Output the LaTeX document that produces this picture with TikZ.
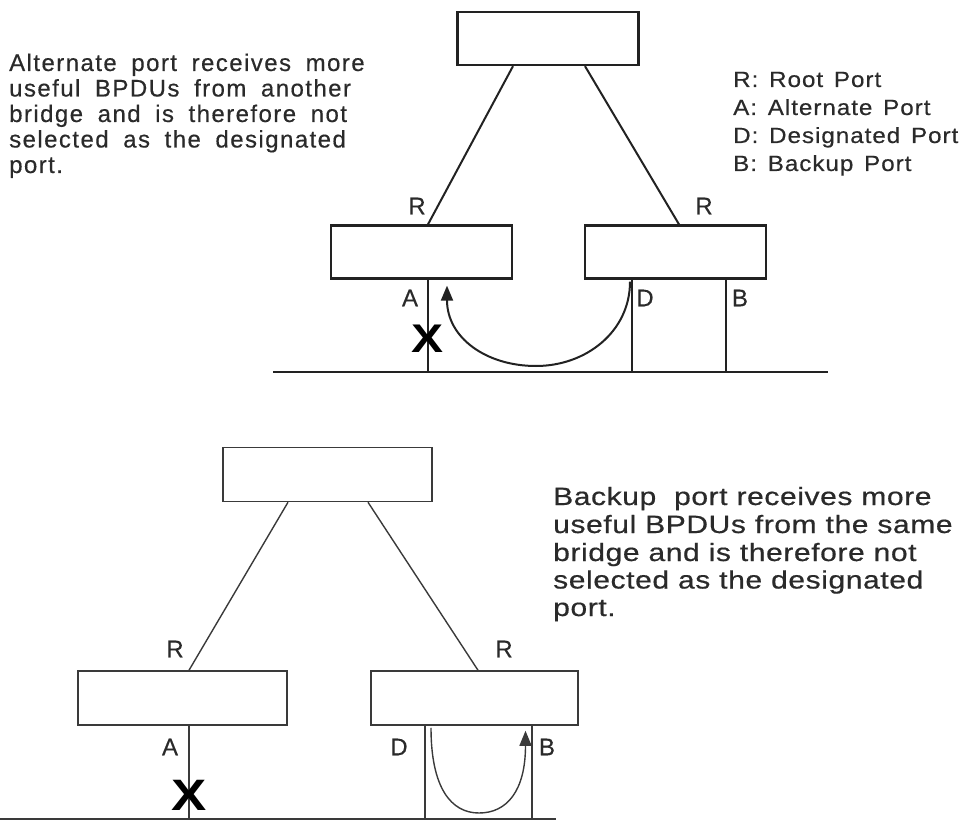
\documentclass[tikz,border=0pt]{standalone}
\usepackage{fontspec}
\setmainfont{Liberation Sans}
\newfontfamily\tlfont[LetterSpace=6,WordSpace=1.8,FakeBold=0.4]{Liberation Sans}
\newfontfamily\lgfont[LetterSpace=4,WordSpace=1.4,FakeBold=0.4]{Liberation Sans}
\newfontfamily\brfont[LetterSpace=2,FakeBold=0.5]{Liberation Sans}
\newfontfamily\lbfont[FakeBold=0.3]{Liberation Sans}
\usetikzlibrary{arrows.meta}
\definecolor{ink}{HTML}{222222}
\definecolor{inkb}{HTML}{3A3A3A}
\definecolor{txt}{HTML}{2A2A2A}
\newcommand{\lgx}[1]{\scalebox{1.1}[1]{#1}}
\newcommand{\brx}[1]{\scalebox{1.2}[1]{#1}}
\newcommand{\xx}[1]{\scalebox{1.2}[1]{#1}}
\begin{document}
\begin{tikzpicture}[x=1pt,y=-1pt,
  boxA/.style={draw=ink,line width=2.3pt,minimum width=181pt,minimum height=53pt,inner sep=0pt},
  boxB/.style={draw=inkb,line width=1.5pt,minimum width=209pt,minimum height=54pt,inner sep=0pt},
  wireA/.style={draw=ink,line width=2pt},
  wireB/.style={draw=inkb,line width=1.4pt},
  lbl/.style={inner sep=0pt,text=txt,font=\lbfont\fontsize{24}{26}\selectfont},
  tlline/.style={anchor=base west,inner sep=0pt,text=txt,font=\tlfont\fontsize{24}{25}\selectfont},
  lgline/.style={anchor=base west,inner sep=0pt,text=txt,font=\lgfont\fontsize{22}{23}\selectfont},
  brline/.style={anchor=base west,inner sep=0pt,text=txt,font=\brfont\fontsize{25}{26}\selectfont},
  xmark/.style={inner sep=0pt,text=black,font=\bfseries\fontsize{#1}{#1}\selectfont},
  tipA/.style={-{Triangle[length=15pt,width=12pt]}},
]
\useasboundingbox (0,0) rectangle (966,821);

% ---------- top diagram ----------
\node[boxA] (tt) at (548,38.5) {};
\node[boxA] (tl) at (421.5,252) {};
\node[boxA] (tr) at (675.5,252) {};
\coordinate (busL) at (273,372);
\coordinate (busR) at (828,372);
\draw[wireA,line width=2.4pt] (busL) -- (busR);
\draw[wireA] ([xshift=-35pt]tt.south) -- ([xshift=6.5pt]tl.north);
\draw[wireA] ([xshift=37pt]tt.south) -- ([xshift=3.5pt]tr.north);
\draw[wireA] ([xshift=6.5pt]tl.south) -- ([xshift=6.5pt]tl.south |- busL);
\draw[wireA] ([xshift=-43.5pt]tr.south) -- ([xshift=-43.5pt]tr.south |- busL);
\draw[wireA] ([xshift=50.5pt]tr.south) -- ([xshift=50.5pt]tr.south |- busL);
\coordinate (arrMa) at (536,366);
\draw[wireA,tipA] ([xshift=-45.5pt,yshift=-2pt]tr.south)
  .. controls +(0,50) and +(50,0) .. (arrMa)
  .. controls +(-50,0) and +(0,52) .. ([xshift=25.5pt,yshift=-6pt]tl.south);
\node[lbl] (rA1) at (417,206) {R};
\node[lbl] (rA2) at (704,206) {R};
\node[lbl] (aA) at (410,298) {A};
\node[lbl] (dA) at (645,298) {D};
\node[lbl] (bA) at (740,298) {B};
\node[xmark=40] (xA) at (428,339) {\xx{X}};

% top-left text
\node[tlline] (t1) at (9,71) {Alternate port receives more};
\node[tlline] (t2) at (9,96.5) {useful BPDUs from another};
\node[tlline] (t3) at (9,122) {bridge and is therefore not};
\node[tlline] (t4) at (9,147.5) {selected as the designated};
\node[tlline] (t5) at (9,173) {port.};

% legend
\node[lgline] (g1) at (733,87) {\lgx{R: Root Port}};
\node[lgline] (g2) at (733,115) {\lgx{A: Alternate Port}};
\node[lgline] (g3) at (733,143) {\lgx{D: Designated Port}};
\node[lgline] (g4) at (733,171) {\lgx{B: Backup Port}};

% ---------- bottom diagram ----------
\node[boxB] (bt) at (327.5,474.5) {};
\node[boxB] (bl) at (182.5,698) {};
\node[boxB,minimum width=207pt] (br) at (474.5,698) {};
\coordinate (bbusL) at (0,819);
\coordinate (bbusR) at (556,819);
\draw[wireB,line width=1.8pt] (bbusL) -- (bbusR);
\draw[wireB] ([xshift=-39.5pt]bt.south) -- ([xshift=6.5pt]bl.north);
\draw[wireB] ([xshift=40.5pt]bt.south) -- ([xshift=3.5pt]br.north);
\draw[wireB] ([xshift=6.5pt]bl.south) -- ([xshift=6.5pt]bl.south |- bbusL);
\draw[wireB] ([xshift=-49.5pt]br.south) -- ([xshift=-49.5pt]br.south |- bbusL);
\draw[wireB] ([xshift=57.5pt]br.south) -- ([xshift=57.5pt]br.south |- bbusL);
\coordinate (arrMb) at (479,813);
\draw[wireB,tipA] ([xshift=-43.5pt,yshift=-2pt]br.south)
  .. controls +(0,60) and +(-28,0) .. (arrMb)
  .. controls +(28,0) and +(0,60) .. ([xshift=51pt,yshift=-5pt]br.south);
\node[lbl] (rB1) at (175,649) {R};
\node[lbl] (rB2) at (504,649) {R};
\node[lbl] (aB) at (170,747) {A};
\node[lbl] (dB) at (399,747) {D};
\node[lbl] (bB) at (547,747) {B};
\node[xmark=44] (xB) at (189,795) {\xx{X}};

% bottom-right text
\node[brline] (b1) at (553,505) {\brx{Backup\ \ port receives more}};
\node[brline] (b2) at (553,533) {\brx{useful BPDUs from the same}};
\node[brline] (b3) at (553,561) {\brx{bridge and is therefore not}};
\node[brline] (b4) at (553,588.5) {\brx{selected as the designated}};
\node[brline] (b5) at (553,616) {\brx{port.}};
\end{tikzpicture}
\end{document}
